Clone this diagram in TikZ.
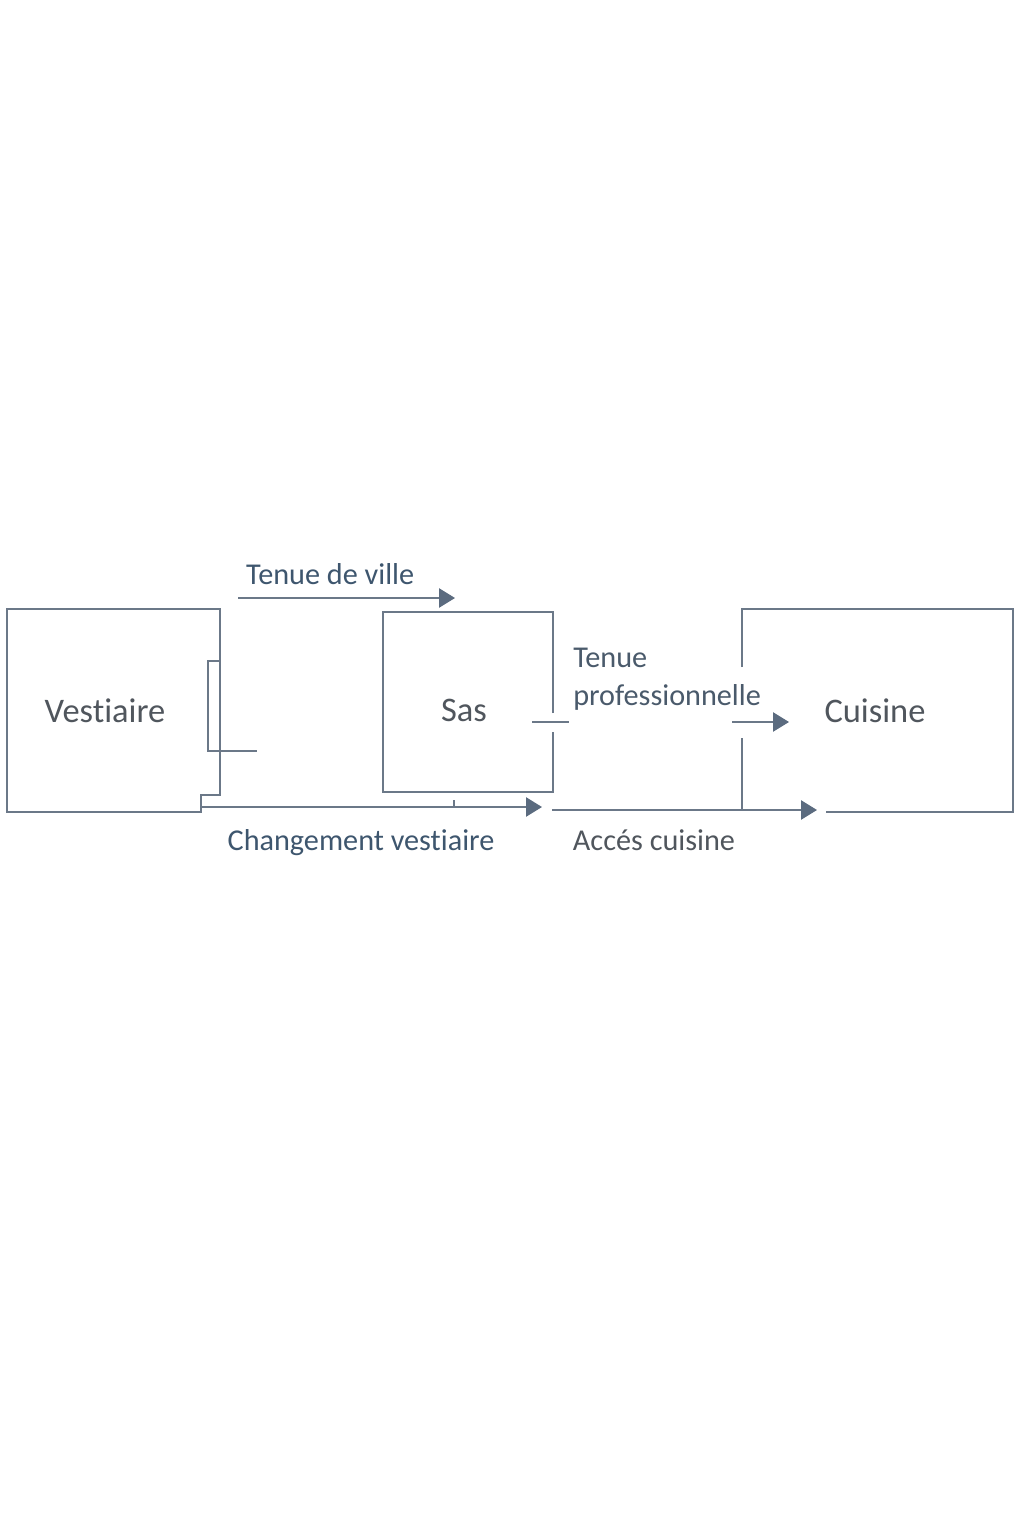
\documentclass[tikz,border=0pt]{standalone}
\usepackage{fontspec}
\setmainfont[Ligatures=NoCommon]{Carlito}
\usetikzlibrary{arrows.meta,calc}
\definecolor{trait}{HTML}{6B7888}
\definecolor{fleche}{HTML}{5B6B7F}
\definecolor{legende}{HTML}{3E566E}
\definecolor{legpro}{HTML}{4A5A6B}
\definecolor{piece}{HTML}{50565D}
\begin{document}
\begin{tikzpicture}[x=0.025cm,y=-0.025cm,
    mur/.style={draw=trait,line width=1.3pt},
    passage/.style={draw=trait,line width=1.3pt,-{Triangle[length=0.4cm,width=0.48cm,color=fleche]}},
    nompiece/.style={text=piece,anchor=base,inner sep=0pt,font=\fontsize{24.5}{29}\selectfont},
    legtexte/.style={text=legende,anchor=base,inner sep=0pt,font=\fontsize{21.5}{26}\selectfont}]
    \fill[white] (0,0) rectangle (1024,1536);
    \useasboundingbox (0,0) rectangle (1024,1536);
    %Vestiaire
    \draw[mur] (7,609) -- (220,609) -- (220,795) -- (201,795) -- (201,812) -- (7,812) -- cycle;
    \draw[mur] (220,661) -- (208,661) -- (208,751) -- (257,751); %porte
    \node[nompiece] (vest) at (105,722) {Vestiaire};
    %Sas
    \draw[mur] (553,713) -- (553,612) -- (383,612) -- (383,792) -- (553,792) -- (553,732);
    \draw[mur] (532,722) -- (569,722); %porte
    \node[nompiece] (sas) at (464,721) {Sas};
    %Cuisine
    \draw[mur] (742,667) -- (742,609) -- (1013,609) -- (1013,812) -- (826,812);
    \draw[mur] (742,738) -- (742,810);
    \node[nompiece] (cuis) at (875,722) {Cuisine};
    %passages
    \coordinate (tv1) at (238,598);
    \coordinate (tv2) at (455,598);
    \draw[passage] (tv1) -- (tv2) node[legtexte,pos=0.425,yshift=0.33cm] (tvlab) {Tenue de ville};
    \coordinate (cv1) at (201,807);
    \coordinate (cv2) at (542,807);
    \draw[passage] (cv1) -- (cv2);
    \draw[mur] (454,800) -- (454,807); %repere
    \node[legtexte] (cvlab) at (361,850) {Changement vestiaire};
    \coordinate (tp1) at (732,722);
    \coordinate (tp2) at (789,722);
    \draw[passage] (tp1) -- (tp2);
    \node[legtexte,text=legpro,anchor=base west] (tplab1) at (573,667) {Tenue};
    \node[legtexte,text=legpro,anchor=base west] (tplab2) at (573,705) {professionnelle};
    \coordinate (ac1) at (552,810);
    \coordinate (ac2) at (817,810);
    \draw[passage] (ac1) -- (ac2);
    \node[legtexte,text=piece] (aclab) at (654,850) {Accés cuisine};
\end{tikzpicture}
\end{document}
